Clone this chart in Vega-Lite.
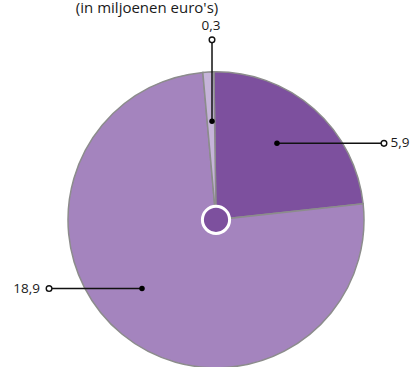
{
  "$schema": "https://vega.github.io/schema/vega-lite/v6.json",
  "width": 413,
  "height": 367,
  "autosize": {"type": "fit", "contains": "padding"},
  "padding": 0,
  "background": "white",
  "config": {"view": {"stroke": null}},
  "datasets": {
    "pie": [
      {"cat": "a", "v": 5.9, "i": 1},
      {"cat": "b", "v": 18.9, "i": 2},
      {"cat": "c", "v": 0.3, "i": 3}
    ],
    "ann": [
      {"label": "0,3", "ix": -0.027, "iy": 0.689, "ox": -0.027, "oy": 1.257, "tx": -0.034, "ty": 1.351},
      {"label": "5,9", "ix": 0.412, "iy": 0.534, "ox": 1.135, "oy": 0.534, "tx": 1.243, "ty": 0.534},
      {"label": "18,9", "ix": -0.5, "iy": -0.48, "ox": -1.128, "oy": -0.48, "tx": -1.28, "ty": -0.48}
    ],
    "titel": [
      {"t": "(in miljoenen euro's)", "x": -0.466, "y": 1.446}
    ]
  },
  "encoding": {},
  "resolve": {"scale": {"x": "shared", "y": "shared"}},
  "layer": [
    {
      "data": {"name": "pie"},
      "mark": {"type": "arc", "outerRadius": 148, "stroke": "#8c8c8c", "strokeWidth": 1.5},
      "encoding": {
        "x": {"datum": 0, "type": "quantitative", "scale": {"domain": [-1.4595, 1.3311], "nice": false, "zero": false}, "axis": null},
        "y": {"datum": 0, "type": "quantitative", "scale": {"domain": [-0.9932, 1.4865], "nice": false, "zero": false}, "axis": null},
        "theta": {"field": "v", "type": "quantitative", "stack": true, "scale": {"range": [-0.014, 6.269]}},
        "order": {"field": "i", "type": "quantitative"},
        "color": {"field": "cat", "type": "nominal", "scale": {"domain": ["a", "b", "c"], "range": ["#7d509e", "#a484be", "#c6b4d9"]}, "legend": null}
      }
    },
    {
      "data": {"name": "ann"},
      "mark": {"type": "rule", "color": "#111111", "strokeWidth": 1.5},
      "encoding": {
        "x": {"field": "ix", "type": "quantitative"},
        "y": {"field": "iy", "type": "quantitative"},
        "x2": {"field": "ox"},
        "y2": {"field": "oy"}
      }
    },
    {
      "data": {"name": "ann"},
      "mark": {"type": "point", "filled": true, "color": "#000000", "size": 30, "opacity": 1},
      "encoding": {
        "x": {"field": "ix", "type": "quantitative"},
        "y": {"field": "iy", "type": "quantitative"}
      }
    },
    {
      "data": {"name": "ann"},
      "mark": {"type": "point", "filled": true, "fill": "white", "stroke": "#111111", "strokeWidth": 1.4, "size": 32, "opacity": 1},
      "encoding": {
        "x": {"field": "ox", "type": "quantitative"},
        "y": {"field": "oy", "type": "quantitative"}
      }
    },
    {
      "data": {"name": "ann"},
      "mark": {"type": "text", "font": "Open Sans", "fontSize": 13.5, "color": "#1a1a1a", "align": "center", "baseline": "middle"},
      "encoding": {
        "x": {"field": "tx", "type": "quantitative"},
        "y": {"field": "ty", "type": "quantitative"},
        "text": {"field": "label"}
      }
    },
    {
      "data": {"values": [{}]},
      "mark": {"type": "point", "filled": true, "fill": "#7d509e", "stroke": "white", "strokeWidth": 3, "size": 740, "opacity": 1},
      "encoding": {
        "x": {"datum": 0, "type": "quantitative"},
        "y": {"datum": 0, "type": "quantitative"}
      }
    },
    {
      "data": {"name": "titel"},
      "mark": {"type": "text", "font": "Open Sans", "fontSize": 15, "color": "#1a1a1a", "align": "center", "baseline": "alphabetic"},
      "encoding": {
        "x": {"field": "x", "type": "quantitative"},
        "y": {"field": "y", "type": "quantitative"},
        "text": {"field": "t"}
      }
    }
  ]
}
